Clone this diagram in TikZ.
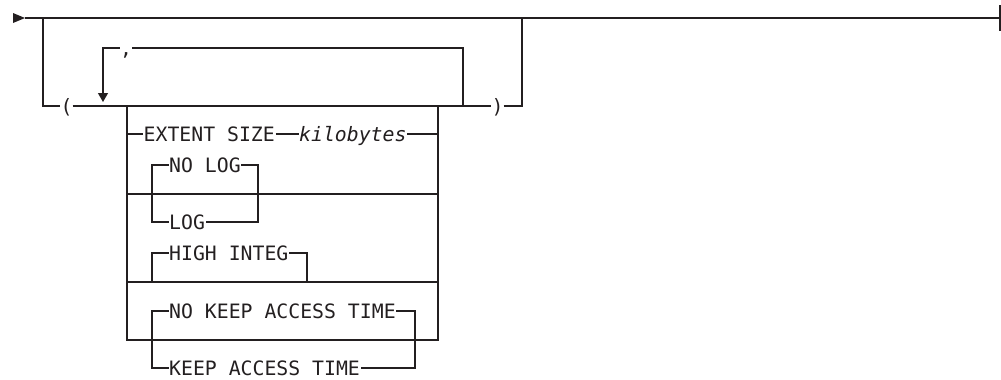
\documentclass[tikz,border=0pt]{standalone}
\usepackage{fontspec}
\usetikzlibrary{arrows.meta}
\newfontfamily\rrfont{DejaVu Sans Mono}
\definecolor{ink}{RGB}{35,31,32}
\tikzset{
  rr/.style={line width=1.2pt, draw=ink},
  kw/.style={font=\rrfont\fontsize{19.8}{20}\selectfont, text=ink, inner ysep=0pt, inner xsep=0.5pt,
             text height=14.4pt, text depth=0pt, anchor=west},
  var/.style={kw, font=\rrfont\itshape\fontsize{19.8}{20}\selectfont},
  sym/.style={kw, anchor=center, inner xsep=0pt}
}
\begin{document}
\begin{tikzpicture}[x=1pt,y=-1pt]
\useasboundingbox (0,0) rectangle (1001,380);
% start / end
\coordinate (st) at (25,18);
\coordinate (fin) at (1000,18);
\coordinate (j1) at (43,18);
\coordinate (j2) at (522,18);
\fill[ink] (13,13) -- (st) -- (13,23) -- cycle;
\draw[rr] (st) -- (fin);
\draw[rr] (1000,5) -- (1000,31);
% parentheses
\node[sym] (lp) at (66.5,106) {(};
\node[sym] (rp) at (497.5,106) {)};
\draw[rr] (j1) |- (lp.west);
\draw[rr] (lp.east) -- (rp.west);
\draw[rr] (rp.east) -| (j2);
% repeat loop
\node[sym] (cm) at (126,48) {,};
\coordinate (lt) at (463,106);
\coordinate (ar) at (103,102);
\draw[rr] (lt) |- (cm.east);
\draw[rr,-{Triangle[width=10pt,length=9pt]}] (cm.west) -| (ar);
% stack frame
\coordinate (sTL) at (127,106);
\coordinate (sTR) at (438,106);
\coordinate (sBL) at (127,340);
\coordinate (sBR) at (438,340);
\draw[rr] (sTL) -- (sBL) -- (sBR) -- (sTR);
\draw[rr] (127,194) -- (438,194);
\draw[rr] (127,282) -- (438,282);
% row 1
\node[kw] (ext) at (143,134) {EXTENT SIZE};
\node[var] (kb) at (298.5,134) {kilobytes};
\coordinate (e1) at (127,134);
\coordinate (e2) at (438,134);
\draw[rr] (e1) -- (ext.west);
\draw[rr] (ext.east) -- (kb.west);
\draw[rr] (kb.east) -- (e2);
% row 2
\node[kw] (nolog) at (168.5,165) {NO LOG};
\node[kw] (log) at (168.5,222) {LOG};
\coordinate (nlL) at (152,194);
\coordinate (nlR) at (258,194);
\draw[rr] (nolog.west) -| (nlL) |- (log.west);
\draw[rr] (nolog.east) -| (nlR) |- (log.east);
% row 3
\node[kw] (hi) at (168.5,253) {HIGH INTEG};
\coordinate (hiL) at (152,282);
\coordinate (hiR) at (307,282);
\draw[rr] (hiL) |- (hi.west);
\draw[rr] (hi.east) -| (hiR);
% row 4
\node[kw] (nk) at (168.5,311) {NO KEEP ACCESS TIME};
\node[kw] (k) at (168.5,368) {KEEP ACCESS TIME};
\coordinate (kL) at (152,340);
\coordinate (kR) at (415,340);
\draw[rr] (nk.west) -| (kL) |- (k.west);
\draw[rr] (nk.east) -| (kR) |- (k.east);
\end{tikzpicture}
\end{document}
